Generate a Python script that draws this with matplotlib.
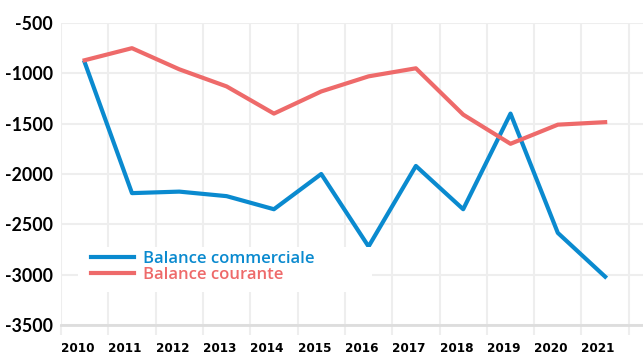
import matplotlib
matplotlib.use('Agg')
import matplotlib.pyplot as plt
from matplotlib import font_manager
from matplotlib.patches import Rectangle

# yearly balances
years = ['2010', '2011', '2012', '2013', '2014', '2015',
         '2016', '2017', '2018', '2019', '2020', '2021']
commerciale = [-890, -2190, -2175, -2220, -2350, -2000,
               -2720, -1920, -2350, -1400, -2585, -3020]
courante = [-870, -750, -960, -1130, -1400, -1180,
            -1030, -950, -1410, -1700, -1510, -1485]
yticks = [-3500, -3000, -2500, -2000, -1500, -1000, -500]

blue = '#0a8acf'
red = '#ee6a6a'
grid_col = '#eeeeee'

# narrow face for the year labels, if one is installed
installed = {f.name for f in font_manager.fontManager.ttflist}
narrow = [(f.name, f.stretch) for f in font_manager.fontManager.ttflist
          if 'Narrow' in f.name or 'Condensed' in f.name
          or f.stretch in ('condensed', 'semi-condensed', 'extra-condensed')]
if 'Liberation Sans Narrow' in installed:
    year_font = dict(fontfamily='Liberation Sans Narrow', fontsize=9.6)
elif narrow:
    year_font = dict(fontfamily=narrow[0][0], fontstretch='condensed', fontsize=9.6)
else:
    year_font = dict(fontfamily='DejaVu Sans', fontstretch='condensed', fontsize=7.4)

fig = plt.figure(figsize=(6.43, 3.56), dpi=100)
ax = fig.add_axes([61 / 643, 1 - 325 / 356, 582 / 643, 302 / 356])

# points sit in the middle of each year band
x = [i + 0.5 for i in range(len(years))]
ax.plot(x, commerciale, color=blue, lw=3, label='Balance commerciale', zorder=3)
ax.plot(x, courante, color=red, lw=3, label='Balance courante', zorder=3)

ax.set_xlim(0, 12.3)
ax.set_ylim(-3500, -500)
ax.set_yticks(yticks)
ax.set_yticklabels([str(v) for v in yticks], fontfamily='Lato',
                   fontweight='bold', fontsize=12.8)
ax.set_xticks(range(len(years) + 1))
ax.set_xticklabels(years + [''], ha='left', fontweight='bold', **year_font)

ax.grid(True, color=grid_col, lw=1.5, zorder=0)
ax.set_axisbelow(True)
ax.tick_params(axis='y', length=0, pad=5.8)
ax.tick_params(axis='x', length=7.2, width=1.5, color=grid_col, pad=5.2)
for side in ['top', 'right', 'left']:
    ax.spines[side].set_visible(False)
ax.spines['bottom'].set_color('#dddddd')
ax.spines['bottom'].set_linewidth(2)

# white panel behind the legend, on top of the lines
ax.add_patch(Rectangle((78 / 643, 1 - 292 / 356), 294 / 643, 45 / 356,
                       transform=fig.transFigure, facecolor='white',
                       edgecolor='none', zorder=4))
leg = ax.legend(loc='upper left', bbox_to_anchor=(86 / 643, 1 - 246 / 356),
                bbox_transform=fig.transFigure, frameon=False,
                handlelength=2.6, handletextpad=0.5, labelspacing=0.0,
                borderaxespad=0, borderpad=0.3, labelcolor='linecolor',
                prop={'family': 'Open Sans', 'weight': 'semibold', 'size': 12})
leg.set_zorder(5)

fig.savefig('out.png', dpi=100)
